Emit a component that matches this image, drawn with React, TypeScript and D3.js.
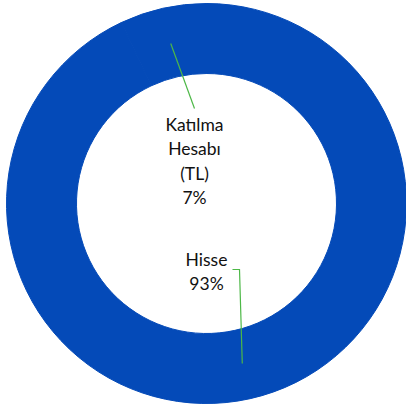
import { useEffect, useRef } from "react";
import * as d3 from "d3";

// slices, in the order the chart draws them (clockwise from 12 o'clock)
const labels = ["Hisse", "Katılma Hesabı (TL)"];
const values = [93, 7];
const labelLines = [["Hisse", "93%"], ["Katılma", "Hesabı", "(TL)", "7%"]];
const sliceColor = "#044AB8";
const lineColor = "#4DB847";

export default function App() {
  const ref = useRef<SVGSVGElement | null>(null);

  useEffect(() => {
    const svg = d3.select(ref.current);
    svg.selectAll("*").remove();
    const cx = 206.5, cy = 203.5;
    const outerR = 200, innerR = 130;

    const pie = d3.pie<number>().sort(null).value(d => d);
    const arcs = pie(values);
    const arc = d3.arc<d3.PieArcDatum<number>>().innerRadius(innerR).outerRadius(outerR);

    const g = svg.append("g").attr("transform", `translate(${cx},${cy})`);
    g.selectAll("path.slice")
      .data(arcs)
      .enter()
      .append("path")
      .attr("class", "slice")
      .attr("d", arc)
      .attr("fill", sliceColor)
      .attr("stroke", sliceColor)
      .attr("stroke-width", 1)
      .attr("stroke-linejoin", "round");

    // label positions and leader lines, relative to centre
    const labelPos = [
      { x: 0, y: 62 },
      { x: -12, y: -73 },
    ];
    const lineHeight = 24.5;

    arcs.forEach((a, i) => {
      const mid = (a.startAngle + a.endAngle) / 2;
      const r = 164;
      const px = Math.sin(mid) * r;
      const py = -Math.cos(mid) * r;
      const lp = labelPos[i];
      if (i === 0) {
        g.append("polyline")
          .attr("points", `${lp.x + 26},${lp.y + 4} ${lp.x + 33},${lp.y + 4} ${px},${py}`)
          .attr("fill", "none")
          .attr("stroke", lineColor)
          .attr("stroke-width", 1.2);
      } else {
        g.append("line")
          .attr("x1", px).attr("y1", py)
          .attr("x2", lp.x).attr("y2", lp.y - 22)
          .attr("stroke", lineColor)
          .attr("stroke-width", 1.2);
      }
      const t = g.append("text")
        .attr("text-anchor", "middle")
        .attr("font-family", "Lato, 'Open Sans', sans-serif")
        .attr("font-size", 17.5)
        .attr("fill", "#111")
        .attr("aria-label", labels[i]);
      labelLines[i].forEach((s, j) => {
        t.append("tspan")
          .attr("x", lp.x)
          .attr("y", lp.y + j * lineHeight)
          .text(s);
      });
    });
  }, []);

  return (
    <svg
      ref={ref}
      width={406}
      height={407}
      style={{ position: "absolute", left: 0, top: 0, background: "#fff" }}
    />
  );
}
